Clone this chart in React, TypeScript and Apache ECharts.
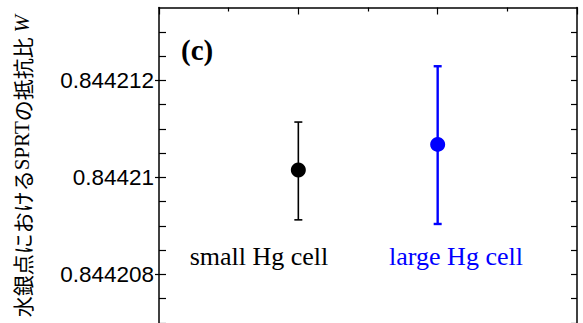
import React, { useEffect, useRef } from "react";
import * as echarts from "echarts";

const categories = ["small Hg cell", "large Hg cell"];
const xPositions = [1, 2];
const means = [0.84421015, 0.84421068];
const lowers = [0.844209125, 0.84420904];
const uppers = [0.84421114, 0.84421229];
const colors = ["#000000", "#0000ff"];
const yMajorTicks = [0.844208, 0.84421, 0.844212];
const yMinorTicks = [
  0.844207, 0.8442075, 0.844208, 0.8442085, 0.844209, 0.8442095, 0.84421,
  0.8442105, 0.844211, 0.8442115, 0.844212, 0.8442125, 0.844213,
];
const yMin = 0.844207;
const yMax = 0.8442135;
const xMin = 0;
const xMax = 3;
const panelLabel = "(c)";

export default function App() {
  const ref = useRef<HTMLDivElement>(null);
  useEffect(() => {
    if (!ref.current) return;
    const chart = echarts.init(ref.current, null, { renderer: "svg" });
    const axisLine = { show: true, lineStyle: { color: "#000", width: 1.5 } };
    const baseY = {
      type: "value",
      min: yMin,
      max: yMax,
      splitLine: { show: false },
      axisLabel: { show: false },
    };
    const option: any = {
      animation: false,
      grid: { left: 159, right: 6, top: 7.5, bottom: -1.8, containLabel: false },
      xAxis: [
        {
          type: "value",
          position: "top",
          min: xMin,
          max: xMax,
          interval: 1,
          axisLine,
          axisTick: { show: true, inside: true, length: 7, lineStyle: { color: "#000", width: 1.2 } },
          minorTick: { show: true, splitNumber: 2, length: 4, lineStyle: { color: "#000", width: 1.2 } },
          axisLabel: { show: false },
          splitLine: { show: false },
        },
      ],
      yAxis: [
        {
          ...baseY,
          position: "left",
          axisLine,
          axisTick: {
            show: true,
            inside: true,
            length: 7,
            customValues: yMinorTicks,
            lineStyle: { color: "#000", width: 1.2 },
          },
          axisLabel: {
            show: true,
            customValues: yMajorTicks,
            formatter: (v: number) => String(v),
            fontFamily: "Liberation Sans, Arial, sans-serif",
            fontSize: 22.5,
            color: "#000",
            margin: 5,
            padding: [4, 0, 0, 0],
          },
        },
        {
          ...baseY,
          position: "left",
          axisLine: { show: false },
          axisTick: {
            show: true,
            inside: false,
            length: 4,
            customValues: yMajorTicks,
            lineStyle: { color: "#000", width: 1.2 },
          },
        },
        {
          ...baseY,
          position: "right",
          axisLine,
          axisTick: {
            show: true,
            inside: true,
            length: 6,
            customValues: yMinorTicks,
            lineStyle: { color: "#000", width: 1.2 },
          },
        },
      ],
      graphic: [
        {
          type: "text",
          left: 181,
          top: 35,
          style: {
            text: panelLabel,
            font: "bold 29px 'Liberation Serif', 'Times New Roman', serif",
            fill: "#000",
          },
        },
        ...categories.map((c, i) => ({
          type: "text",
          x: i === 0 ? 259 : 456,
          y: 256,
          style: {
            text: c,
            font: "26px 'Liberation Serif', 'Times New Roman', serif",
            fill: colors[i],
            align: "center",
            verticalAlign: "middle",
          },
        })),
        {
          type: "text",
          x: 22,
          y: 15,
          rotation: Math.PI / 2,
          style: {
            text: "{jp|水銀点における}{s|SPRT}{jp|の抵抗比 }{w|W}",
            align: "right",
            verticalAlign: "middle",
            rich: {
              jp: { fontFamily: "Noto Sans CJK JP", fontSize: 21, fill: "#000" },
              s: { fontFamily: "Liberation Serif", fontSize: 21, fill: "#000" },
              w: { fontFamily: "Liberation Serif", fontSize: 21, fontStyle: "italic", fill: "#000" },
            },
          },
        },
      ],
      series: [
        {
          type: "custom",
          xAxisIndex: 0,
          yAxisIndex: 0,
          data: xPositions.map((x, i) => [x, lowers[i], uppers[i]]),
          renderItem: (params: any, api: any) => {
            const x = api.value(0);
            const lo = api.coord([x, api.value(1)]);
            const hi = api.coord([x, api.value(2)]);
            const color = colors[params.dataIndex];
            const lw = params.dataIndex === 0 ? 1.6 : 2.4;
            const half = 4;
            const style = { stroke: color, lineWidth: lw };
            return {
              type: "group",
              children: [
                { type: "line", shape: { x1: lo[0], y1: lo[1], x2: hi[0], y2: hi[1] }, style },
                { type: "line", shape: { x1: hi[0] - half, y1: hi[1], x2: hi[0] + half, y2: hi[1] }, style },
                { type: "line", shape: { x1: lo[0] - half, y1: lo[1], x2: lo[0] + half, y2: lo[1] }, style },
              ],
            };
          },
          z: 2,
        },
        {
          type: "scatter",
          xAxisIndex: 0,
          yAxisIndex: 0,
          symbol: "circle",
          symbolSize: 15,
          data: xPositions.map((x, i) => ({
            value: [x, means[i]],
            itemStyle: { color: colors[i], opacity: 1 },
          })),
          itemStyle: { opacity: 1 },
          z: 3,
        },
      ],
    };
    chart.setOption(option);
    return () => chart.dispose();
  }, []);
  return (
    <div
      ref={ref}
      style={{ position: "fixed", left: 0, top: 0, width: 583, height: 323, background: "#fff" }}
    />
  );
}
